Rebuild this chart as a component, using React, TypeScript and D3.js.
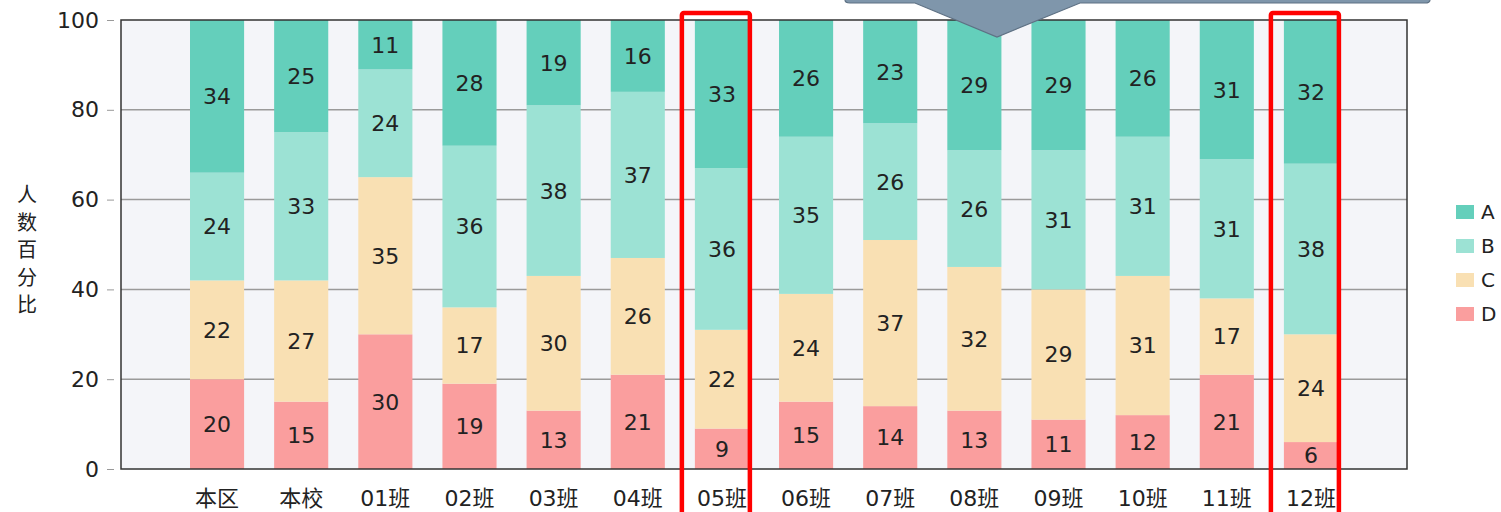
import React from 'react';
import { useRef, useEffect } from 'react';
import { select, scaleBand, scaleLinear, axisLeft, stack } from 'd3';

const classes = ['本区', '本校', '01班', '02班', '03班', '04班', '05班', '06班', '07班', '08班', '09班', '10班', '11班', '12班'];
const levelA = [34, 25, 11, 28, 19, 16, 33, 26, 23, 29, 29, 26, 31, 32];
const levelB = [24, 33, 24, 36, 38, 37, 36, 35, 26, 26, 31, 31, 31, 38];
const levelC = [22, 27, 35, 17, 30, 26, 22, 24, 37, 32, 29, 31, 17, 24];
const levelD = [20, 15, 30, 19, 13, 21, 9, 15, 14, 13, 11, 12, 21, 6];
const levels = ['D', 'C', 'B', 'A'];
const colors = { A: '#64cfbb', B: '#9ce2d4', C: '#f9e0b3', D: '#fa9e9e' };
const yTicks = [0, 20, 40, 60, 80, 100];
const highlighted = ['05班', '12班'];

const FONT = '"DejaVu Sans", "Noto Sans CJK SC", sans-serif';

function App() {
  const svgRef = useRef(null);

  useEffect(() => {
    const svg = select(svgRef.current);
    svg.selectAll('*').remove();

    const left = 121, right = 1407, top = 20, bottom = 469;
    const x = scaleBand().domain(classes).range([left, right]).paddingInner(0.357).paddingOuter(0.82);
    const y = scaleLinear().domain([0, 100]).range([bottom, top]);

    const rows = classes.map((c, i) => ({ name: c, A: levelA[i], B: levelB[i], C: levelC[i], D: levelD[i] }));
    const series = stack().keys(levels)(rows);

    // plot background
    svg.append('rect').attr('x', left).attr('y', top).attr('width', right - left).attr('height', bottom - top)
      .attr('fill', '#f4f5f9');

    // grid
    svg.append('g').selectAll('line').data(yTicks.filter(t => t > 0 && t < 100)).join('line')
      .attr('x1', left).attr('x2', right).attr('y1', d => y(d)).attr('y2', d => y(d))
      .attr('stroke', '#9a9a9a').attr('stroke-width', 1.5);

    // bars
    series.forEach(s => {
      const g = svg.append('g');
      g.selectAll('rect').data(s).join('rect')
        .attr('x', d => x(d.data.name))
        .attr('width', x.bandwidth())
        .attr('y', d => y(d[1]))
        .attr('height', d => y(d[0]) - y(d[1]))
        .attr('fill', colors[s.key]);
      g.selectAll('text').data(s).join('text')
        .attr('x', d => x(d.data.name) + x.bandwidth() / 2)
        .attr('y', d => (y(d[0]) + y(d[1])) / 2)
        .attr('dy', '0.36em')
        .attr('text-anchor', 'middle')
        .attr('font-family', FONT).attr('font-size', 22).attr('fill', '#222')
        .text(d => d.data[s.key]);
    });

    // frame
    svg.append('rect').attr('x', left).attr('y', top).attr('width', right - left).attr('height', bottom - top)
      .attr('fill', 'none').attr('stroke', '#333').attr('stroke-width', 1.5);

    // y axis
    const yAxis = axisLeft(y).tickValues(yTicks).tickSize(7).tickPadding(8);
    const ya = svg.append('g').attr('transform', `translate(${left - 7},0)`).call(yAxis);
    ya.select('.domain').remove();
    ya.selectAll('line').attr('stroke', '#999');
    ya.selectAll('text').attr('font-family', FONT).attr('font-size', 22).attr('fill', '#222');

    // y label (vertical stacked chars)
    const yl = svg.append('text').attr('font-family', FONT).attr('font-size', 20).attr('fill', '#222')
      .attr('text-anchor', 'middle');
    '人数百分比'.split('').forEach((ch, i) => {
      yl.append('tspan').attr('x', 27).attr('y', 202 + i * 27.5).text(ch);
    });

    // x labels
    svg.append('g').selectAll('text').data(classes).join('text')
      .attr('x', d => x(d) + x.bandwidth() / 2)
      .attr('y', 506)
      .attr('text-anchor', 'middle')
      .attr('font-family', FONT).attr('font-size', 22).attr('fill', '#222')
      .text(d => d);

    // legend
    const lg = svg.append('g').selectAll('g').data(['A', 'B', 'C', 'D']).join('g')
      .attr('transform', (d, i) => `translate(1456,${205 + i * 34})`);
    lg.append('rect').attr('width', 18).attr('height', 14).attr('fill', d => colors[d]);
    lg.append('text').attr('x', 25).attr('y', 7).attr('dy', '0.36em')
      .attr('font-family', FONT).attr('font-size', 20).attr('fill', '#222').text(d => d);

    // red highlight boxes
    svg.append('g').selectAll('rect').data(highlighted).join('rect')
      .attr('x', d => x(d) - 13)
      .attr('y', 13).attr('width', 68).attr('height', 520).attr('rx', 2)
      .attr('fill', 'none').attr('stroke', '#ff0000').attr('stroke-width', 4.5);

    // callout shape
    svg.append('path')
      .attr('d', 'M845,-10 L1430,-10 L1430,0 Q1430,3 1425,3 L1080,3 L997,37 L915,3 L850,3 Q845,3 845,0 Z')
      .attr('fill', '#7f96ab').attr('stroke', '#5e7184').attr('stroke-width', 1.2);
  }, []);

  return (
    <svg ref={svgRef} width={1501} height={512}
      style={{ position: 'absolute', left: 0, top: 0, background: '#fff' }} />
  );
}

export default App;
